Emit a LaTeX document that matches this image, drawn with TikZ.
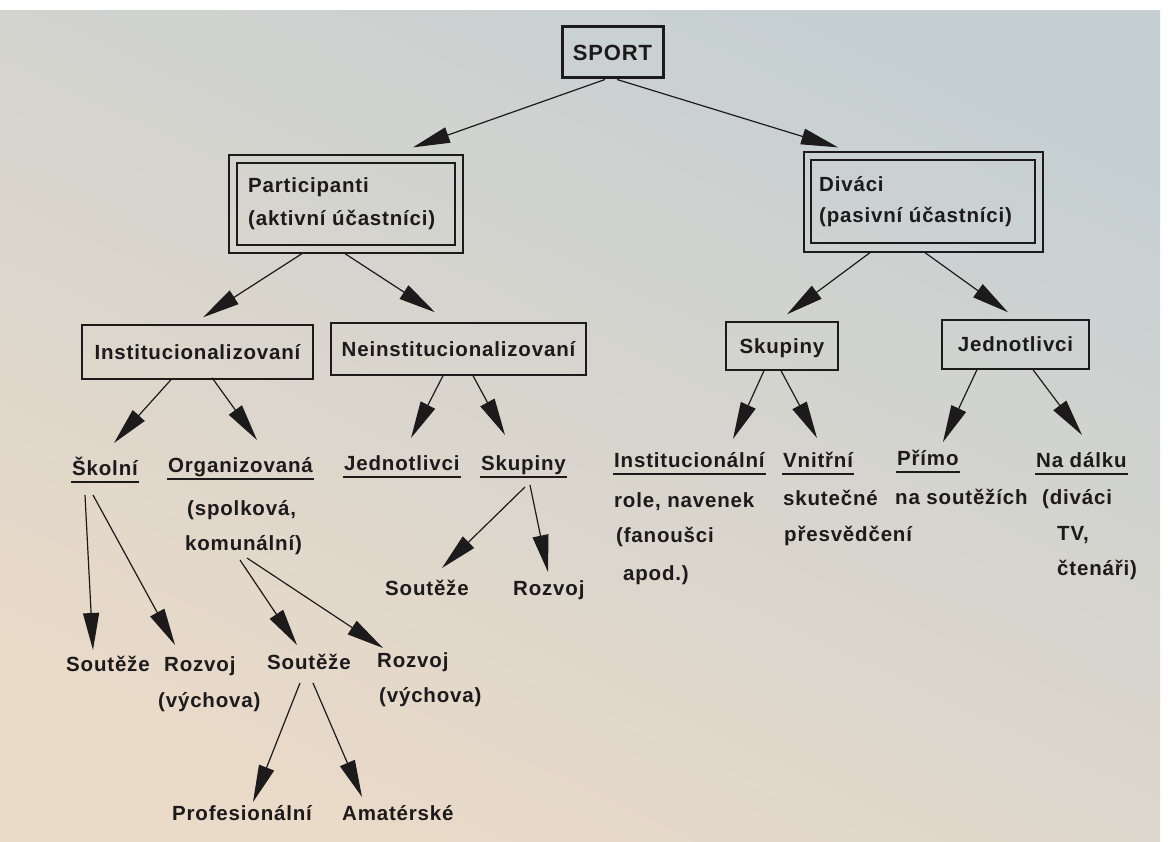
\documentclass[tikz,border=0pt]{standalone}
\usepackage{fontspec}
\setmainfont{Liberation Sans}[LetterSpace=4]
\usetikzlibrary{arrows.meta,calc}
\definecolor{ink}{RGB}{28,26,26}
\definecolor{bgTop}{RGB}{198,208,211}
\definecolor{bgMid}{RGB}{214,214,210}
\definecolor{bgBot}{RGB}{234,218,200}
\begin{document}
\begin{tikzpicture}[x=1pt,y=-1pt,
  lbl/.style={font=\bfseries\fontsize{20.5}{24}\selectfont, text=ink, inner sep=0pt},
  txt/.style={lbl, anchor=base west},
  box/.style={draw=ink, line width=1.4pt, inner sep=0pt, text depth=0pt, lbl},
  arr/.style={draw=ink, line width=1.2pt, -{Triangle[length=37pt,width=16pt]}},
  ul/.style={draw=ink, line width=1.8pt}]
% background
\useasboundingbox (0,0) rectangle (1168,842);
\fill[white] (0,0) rectangle (1168,842);
\shade[top color=bgTop, middle color=bgMid, bottom color=bgBot, shading angle=-25] (0,11) rectangle (1160,842);

% level 0
\node[box, line width=3pt, minimum width=101pt, minimum height=51pt,
      font=\bfseries\fontsize{22}{26}\selectfont] (sport) at (612.5,52.5) {SPORT};

% level 1
\node[box, line width=1.3pt, minimum width=234pt, minimum height=98pt] (partO) at (346,204) {};
\node[box, line width=1.3pt, minimum width=218pt, minimum height=82pt] (partI) at (346,204) {};
\node[txt] (partT1) at (248,193) {Participanti};
\node[txt] (partT2) at (248,226) {(aktivní účastníci)};

\node[box, line width=1.3pt, minimum width=239pt, minimum height=100pt] (divO) at (923.5,202) {};
\node[box, line width=1.3pt, minimum width=224pt, minimum height=83pt] (divI) at (923,201.5) {};
\node[txt] (divT1) at (819,192) {Diváci};
\node[txt] (divT2) at (819,223) {(pasivní účastníci)};

% level 2
\node[box, minimum width=231pt, minimum height=54pt] (inst) at (197.5,352) {Institucionalizovaní};
\node[box, minimum width=255pt, minimum height=52pt] (neinst) at (458.5,349) {Neinstitucionalizovaní};
\node[box, minimum width=112pt, minimum height=48pt] (skupR) at (782,346) {Skupiny};
\node[box, minimum width=147pt, minimum height=49pt] (jednR) at (1015.5,344.5) {Jednotlivci};

% level 3 (left)
\node[txt] (skolni) at (72,475) {Školní};
\node[txt] (organ) at (168,472) {Organizovaná};
\node[txt] (spolk) at (187,515) {(spolková,};
\node[txt] (komun) at (185,550) {komunální)};
\node[txt] (jednL) at (344,470) {Jednotlivci};
\node[txt] (skupL) at (481,470) {Skupiny};

% level 3 (right)
\node[txt] (instR) at (614,467) {Institucionální};
\node[txt] (instR1) at (614,507) {role, navenek};
\node[txt] (instR2) at (616,542) {(fanoušci};
\node[txt] (instR3) at (623,580) {apod.)};
\node[txt] (vnitr) at (783,467) {Vnitřní};
\node[txt] (vnitr1) at (783,505) {skutečné};
\node[txt] (vnitr2) at (784,541) {přesvědčení};
\node[txt] (primo) at (897,465) {Přímo};
\node[txt] (primo1) at (895,504) {na soutěžích};
\node[txt] (dalku) at (1036,467) {Na dálku};
\node[txt] (dalku1) at (1042,504) {(diváci};
\node[txt] (dalku2) at (1057,540) {TV,};
\node[txt] (dalku3) at (1057,575) {čtenáři)};

% underlines
\foreach \n in {skolni,organ,jednL,skupL,instR,vnitr,primo,dalku}
  \draw[ul] ([xshift=-1pt,yshift=-7pt]\n.base west) -- ([xshift=1pt,yshift=-7pt]\n.base east);

% level 4
\node[txt] (soutL) at (66,671) {Soutěže};
\node[txt] (rozvL) at (164,671) {Rozvoj};
\node[txt] (rozvL2) at (158,707) {(výchova)};
\node[txt] (soutM) at (267,669) {Soutěže};
\node[txt] (rozvM) at (377,667) {Rozvoj};
\node[txt] (rozvM2) at (379,702) {(výchova)};
\node[txt] (soutR) at (385,595) {Soutěže};
\node[txt] (rozvR) at (513,595) {Rozvoj};

% level 5
\node[txt] (profi) at (172,820) {Profesionální};
\node[txt] (amat) at (342,820) {Amatérské};

% connectors
\draw[arr] ($(sport.south)+(-7.5,0)$) -- ($(partO.north)+(67,-7)$);
\draw[arr] ($(sport.south)+(4.5,0)$) -- ($(divO.north)+(-85.5,-4)$);

\draw[arr] ($(partO.south)+(-44,0)$) -- ($(inst.north)+(5.5,-7)$);
\draw[arr] ($(partO.south)+(-1,0)$) -- ($(neinst.north)+(-23.5,-10)$);
\draw[arr] ($(divO.south)+(-53.5,0)$) -- ($(skupR.north)+(5,-7)$);
\draw[arr] ($(divO.south)+(1.5,0)$) -- ($(jednR.north)+(-7.5,-7)$);

\draw[arr] ($(inst.south)+(-26.5,0)$) -- ($(skolni.base west)+(42,-32)$);
\draw[arr] ($(inst.south)+(14.5,-2)$) -- ($(organ.base west)+(89,-32)$);
\draw[arr] ($(neinst.south)+(-15.5,0)$) -- ($(jednL.base west)+(67,-32)$);
\draw[arr] ($(neinst.south)+(14.5,0)$) -- ($(skupL.base west)+(24,-35)$);

\draw[arr] ($(skupR.south)+(-18,0)$) -- ($(instR.base west)+(119,-28)$);
\draw[arr] ($(skupR.south)+(-1,0)$) -- ($(vnitr.base west)+(34,-29)$);
\draw[arr] ($(jednR.south)+(-38.5,0)$) -- ($(primo.base west)+(46,-23)$);
\draw[arr] ($(jednR.south)+(17.5,0)$) -- ($(dalku.base west)+(46,-32)$);

\draw[arr] ($(skolni.base west)+(13,20)$) -- ($(soutL.base west)+(27,-21)$);
\draw[arr] ($(skolni.base west)+(21,20)$) -- ($(rozvL.base west)+(11,-26)$);
\draw[arr] ($(komun.base west)+(55,10)$) -- ($(soutM.base west)+(30,-24)$);
\draw[arr] ($(komun.base west)+(62,8)$) -- ($(rozvM.base west)+(6,-19)$);
\draw[arr] ($(skupL.base west)+(44,17)$) -- ($(soutR.base west)+(57,-27)$);
\draw[arr] ($(skupL.base west)+(49,15)$) -- ($(rozvR.base west)+(35,-23)$);

\draw[arr] ($(soutM.base west)+(33,14)$) -- ($(profi.base west)+(81,-18)$);
\draw[arr] ($(soutM.base west)+(46,14)$) -- ($(amat.base west)+(20,-23)$);
\end{tikzpicture}
\end{document}
